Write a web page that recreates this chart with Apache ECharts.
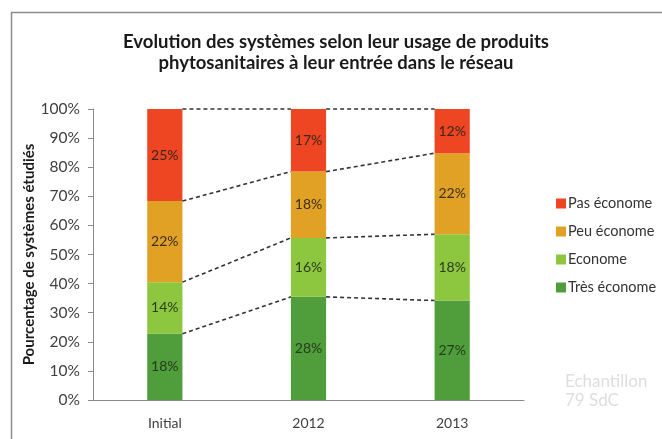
<!DOCTYPE html>
<html>
<head>
<meta charset="utf-8">
<script src="https://cdn.jsdelivr.net/npm/echarts@6/dist/echarts.min.js"></script>
<style>
  html, body { margin: 0; padding: 0; background: #fff; }
  #chart { width: 662px; height: 439px; }
</style>
</head>
<body>
<div id="chart"></div>
<script>
// categories and raw shares (label values, %)
var categories = ['Initial', '2012', '2013'];
var tresEconome = [18, 28, 27];
var econome = [14, 16, 18];
var peuEconome = [22, 18, 22];
var pasEconome = [25, 17, 12];
var yTicks = [0, 10, 20, 30, 40, 50, 60, 70, 80, 90, 100];

var seriesDefs = [
  { name: 'Très économe', data: tresEconome, color: '#4f9d3b', label: '#263b1c' },
  { name: 'Econome', data: econome, color: '#8dc63f', label: '#2a3d1c' },
  { name: 'Peu économe', data: peuEconome, color: '#e0a125', label: '#3a2e1a' },
  { name: 'Pas économe', data: pasEconome, color: '#ee4523', label: '#3a261a' }
];

// totals per category -> bars normalised to 100%
var totals = categories.map(function (c, i) {
  return seriesDefs.reduce(function (s, d) { return s + d.data[i]; }, 0);
});
function pct(v, i) { return v / totals[i] * 100; }

// cumulative boundaries for the dashed connectors
var bounds = [];
var cum = categories.map(function () { return 0; });
seriesDefs.forEach(function (d) {
  cum = cum.map(function (c, i) { return c + pct(d.data[i], i); });
  bounds.push(cum.slice());
});
var connectData = [];
bounds.forEach(function (b) {
  for (var i = 0; i < categories.length - 1; i++) {
    connectData.push([i, b[i], b[i + 1]]);
  }
});

var BAR_RATIO = 0.245;
var txt = 'Lato, "Open Sans", sans-serif';

var chart = echarts.init(document.getElementById('chart'));

var series = seriesDefs.map(function (d) {
  return {
    name: d.name,
    type: 'bar',
    stack: 'total',
    barWidth: (BAR_RATIO * 100) + '%',
    itemStyle: { color: d.color },
    data: d.data.map(function (v, i) { return pct(v, i); }),
    label: {
      show: true,
      position: 'inside',
      fontFamily: txt,
      fontSize: 14,
      color: d.label,
      formatter: function (p) { return d.data[p.dataIndex] + '%'; }
    },
    z: 2
  };
});

series.push({
  type: 'custom',
  name: 'connect',
  data: connectData,
  encode: { x: 0, y: 1 },
  silent: true,
  z: 3,
  renderItem: function (params, api) {
    var i = api.value(0);
    var half = api.size([1, 0])[0] * BAR_RATIO / 2;
    var p1 = api.coord([i, api.value(1)]);
    var p2 = api.coord([i + 1, api.value(2)]);
    return {
      type: 'line',
      shape: { x1: p1[0] + half, y1: p1[1], x2: p2[0] - half, y2: p2[1] },
      style: { stroke: '#333', lineWidth: 1.6, lineDash: [4, 3] }
    };
  }
});

var option = {
  backgroundColor: '#fff',
  animation: false,
  title: {
    text: 'Evolution des systèmes selon leur usage de produits\nphytosanitaires à leur entrée dans le réseau',
    left: 331,
    textAlign: 'center',
    top: 27,
    textStyle: {
      fontFamily: txt,
      fontSize: 18.5,
      fontWeight: 'bold',
      color: '#1a1a1a',
      lineHeight: 21
    }
  },
  grid: { left: 93, right: 138, top: 109, bottom: 39 },
  legend: {
    orient: 'vertical',
    left: 551,
    top: 191,
    itemWidth: 10,
    itemHeight: 10,
    itemGap: 13,
    icon: 'rect',
    data: ['Pas économe', 'Peu économe', 'Econome', 'Très économe'],
    textStyle: { fontFamily: txt, fontSize: 14.5, color: '#333', padding: [0, 0, 0, -3] }
  },
  xAxis: {
    type: 'category',
    data: categories,
    axisLine: { lineStyle: { color: '#8a8a8a', width: 1 } },
    axisTick: { show: false },
    axisLabel: { fontFamily: txt, fontSize: 14, color: '#404040', margin: 16 }
  },
  yAxis: {
    type: 'value',
    min: yTicks[0],
    max: yTicks[yTicks.length - 1],
    interval: 10,
    name: 'Pourcentage de systèmes étudiés',
    nameLocation: 'middle',
    nameGap: 56,
    nameMoveOverlap: false,
    nameTextStyle: { fontFamily: txt, fontSize: 15, fontWeight: 'bold', color: '#1a1a1a' },
    axisLine: { show: true, lineStyle: { color: '#8a8a8a', width: 1 } },
    axisTick: { show: true, length: 5, lineStyle: { color: '#8a8a8a' } },
    splitLine: { show: false },
    axisLabel: { fontFamily: txt, fontSize: 15.5, color: '#404040', margin: 13, formatter: '{value}%' }
  },
  graphic: [
    {
      type: 'rect',
      shape: { x: 11.5, y: 12.5, width: 700, height: 500 },
      style: { fill: 'none', stroke: '#8c8c8c', lineWidth: 1.5 },
      silent: true
    },
    {
      type: 'text',
      left: 565,
      top: 372,
      style: {
        text: 'Echantillon\n79 SdC',
        fontFamily: txt,
        fontSize: 17,
        lineHeight: 19,
        fill: '#dedede'
      }
    }
  ],
  series: series
};

chart.setOption(option);
</script>
</body>
</html>
